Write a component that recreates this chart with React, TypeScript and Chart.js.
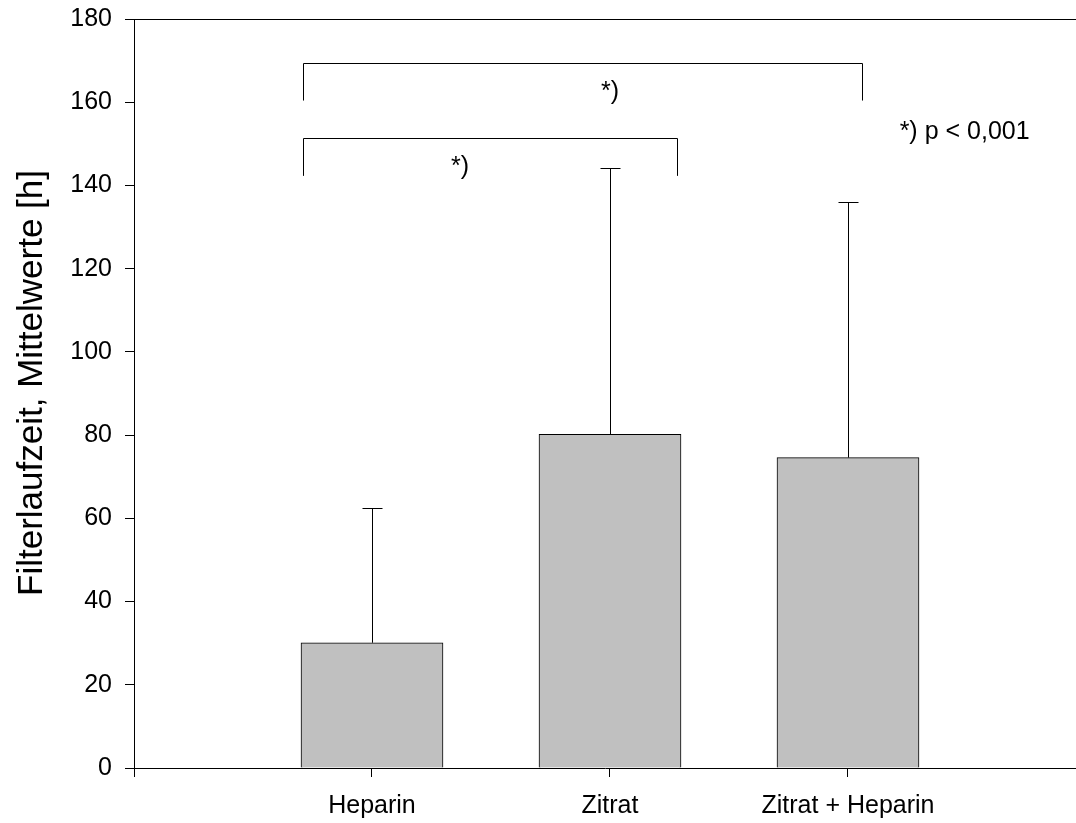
import React, { useEffect, useRef } from "react";
import { Chart, registerables } from "chart.js";

Chart.register(...registerables);

// ---- data ----
const categories = ["Heparin", "Zitrat", "Zitrat + Heparin"];
const categoryPositions = [1, 2, 3];
const meanValues = [30.1, 80.2, 74.6];
const errorTops = [62.4, 144.3, 136.1];
const yTickValues = [0, 20, 40, 60, 80, 100, 120, 140, 160, 180];
const yTitle = "Filterlaufzeit, Mittelwerte [h]";

// significance brackets (data units)
const bracketStart = [0.71, 0.71];
const bracketEnd = [3.06, 2.28];
const bracketTop = [169.5, 151.3];
const bracketFoot = [160.4, 142.3];
const starX = [2.0, 1.37];
const starY = [162.5, 144.4];
const starText = ["*)", "*)"];
const noteText = "*) p < 0,001";
const noteX = 3.49;
const noteY = 152.8;

const FONT = "'Liberation Sans', Arial, Helvetica, sans-serif";

const annotationPlugin = {
  id: "annotations",
  afterDatasetsDraw(chart: any) {
    const { ctx, chartArea, scales } = chart;
    const xs = scales.x;
    const ys = scales.y;
    ctx.save();
    ctx.strokeStyle = "#000";
    ctx.lineWidth = 1;
    // top frame line
    ctx.beginPath();
    ctx.moveTo(chartArea.left, Math.round(chartArea.top) + 0.5);
    ctx.lineTo(chartArea.right, Math.round(chartArea.top) + 0.5);
    ctx.stroke();

    // error bars (upper only)
    categoryPositions.forEach((p, i) => {
      const x = Math.round(xs.getPixelForValue(p)) + 0.5;
      const y0 = ys.getPixelForValue(meanValues[i]);
      const y1 = Math.round(ys.getPixelForValue(errorTops[i])) + 0.5;
      ctx.beginPath();
      ctx.moveTo(x, y0);
      ctx.lineTo(x, y1);
      ctx.moveTo(x - 10, y1);
      ctx.lineTo(x + 10, y1);
      ctx.stroke();
    });

    // brackets
    bracketStart.forEach((s, i) => {
      const xa = Math.round(xs.getPixelForValue(s)) + 0.5;
      const xb = Math.round(xs.getPixelForValue(bracketEnd[i])) + 0.5;
      const yt = Math.round(ys.getPixelForValue(bracketTop[i])) + 0.5;
      const yf = ys.getPixelForValue(bracketFoot[i]);
      ctx.beginPath();
      ctx.moveTo(xa, yf);
      ctx.lineTo(xa, yt);
      ctx.lineTo(xb, yt);
      ctx.lineTo(xb, yf);
      ctx.stroke();
    });

    ctx.fillStyle = "#000";
    ctx.font = `25px ${FONT}`;
    ctx.textAlign = "center";
    ctx.textBaseline = "middle";
    starText.forEach((t, i) => {
      ctx.fillText(t, xs.getPixelForValue(starX[i]), ys.getPixelForValue(starY[i]));
    });
    ctx.fillText(noteText, xs.getPixelForValue(noteX), ys.getPixelForValue(noteY));

    // y-axis title
    ctx.save();
    ctx.translate(32, 383);
    ctx.rotate(-Math.PI / 2);
    ctx.font = `35px ${FONT}`;
    ctx.fillText(yTitle, 0, 0);
    ctx.restore();

    ctx.restore();
  },
};

export default function App() {
  const canvasRef = useRef<HTMLCanvasElement | null>(null);

  useEffect(() => {
    if (!canvasRef.current) return;
    Chart.defaults.font.family = FONT;
    Chart.defaults.color = "#000";
    const chart = new Chart(canvasRef.current, {
      type: "bar",
      data: {
        datasets: [
          {
            data: categoryPositions.map((x, i) => ({ x, y: meanValues[i] })),
            backgroundColor: "#c0c0c0",
            borderColor: "#000",
            borderWidth: 1,
            barThickness: 142,
          } as any,
        ],
      },
      options: {
        animation: false,
        responsive: false,
        devicePixelRatio: 1,
        layout: { padding: { top: 19, left: 0, right: 0, bottom: 0 } },
        plugins: { legend: { display: false }, tooltip: { enabled: false } },
        scales: {
          x: {
            type: "linear",
            offset: false,
            min: 0,
            max: 3.958,
            afterBuildTicks: (scale: any) => {
              scale.ticks = [0, ...categoryPositions].map((v) => ({ value: v }));
            },
            afterFit: (scale: any) => {
              scale.height = 55;
              scale.paddingLeft = 0;
              scale.paddingRight = 0;
            },
            grid: {
              offset: false,
              drawOnChartArea: false,
              tickLength: 9,
              tickColor: "#000",
              color: "#000",
            },
            border: { color: "#000", width: 1 },
            ticks: {
              autoSkip: false,
              maxRotation: 0,
              padding: 14,
              font: { size: 25 },
              color: "#000",
              callback: (v: any) => {
                const idx = categoryPositions.indexOf(Number(v));
                return idx >= 0 ? categories[idx] : "";
              },
            },
          },
          y: {
            type: "linear",
            min: 0,
            max: 180,
            afterBuildTicks: (scale: any) => {
              scale.ticks = yTickValues.map((v) => ({ value: v }));
            },
            afterFit: (scale: any) => {
              scale.width = 134;
              scale.paddingTop = 0;
              scale.paddingBottom = 0;
            },
            grid: {
              drawOnChartArea: false,
              tickLength: 9,
              tickColor: "#000",
              color: "#000",
            },
            border: { color: "#000", width: 1 },
            ticks: { padding: 13, font: { size: 25 }, color: "#000" },
          },
        },
      } as any,
      plugins: [annotationPlugin],
    });
    return () => chart.destroy();
  }, []);

  return (
    <div style={{ position: "fixed", left: 0, top: 0, width: 1076, height: 823, background: "#fff" }}>
      <canvas ref={canvasRef} width={1076} height={823} />
    </div>
  );
}
